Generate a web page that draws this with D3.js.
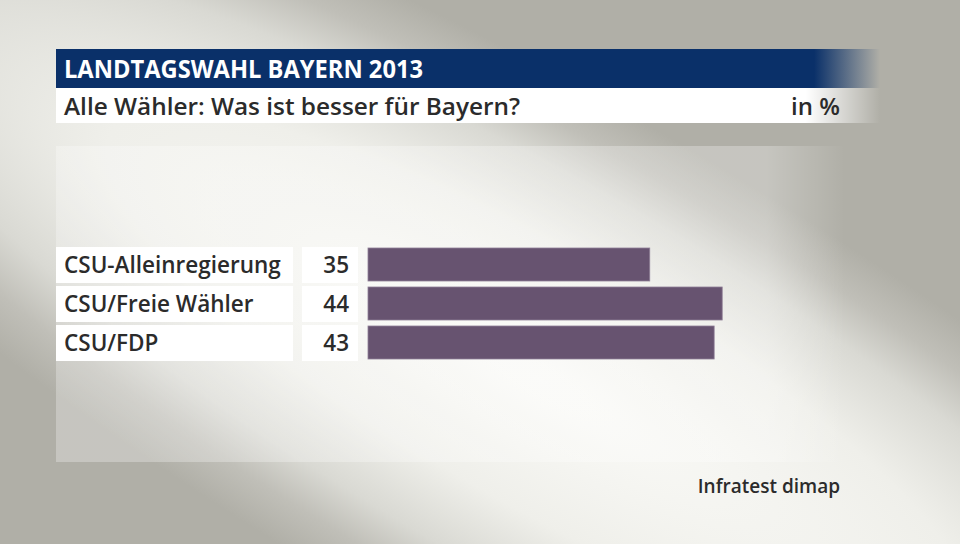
<!DOCTYPE html>
<html>
<head>
<meta charset="utf-8">
<script src="https://cdn.jsdelivr.net/npm/d3@7"></script>
<style>
  html, body { margin: 0; padding: 0; background: #b2b1a9; }
  svg { display: block; }
  text { font-family: "Open Sans", "DejaVu Sans", sans-serif; }
</style>
</head>
<body>
<svg id="chart" width="960" height="544"></svg>
<script>
const title = "LANDTAGSWAHL BAYERN 2013";
const subtitle = "Alle Wähler: Was ist besser für Bayern?";
const unitLabel = "in %";
const source = "Infratest dimap";
const categories = ["CSU-Alleinregierung", "CSU/Freie Wähler", "CSU/FDP"];
const values = [35, 44, 43];

const svg = d3.select("#chart");
const width = 960, height = 544;
const defs = svg.append("defs");

// background: light diagonal glow on grey
const bg = defs.append("radialGradient")
  .attr("id", "bgGlow")
  .attr("gradientUnits", "userSpaceOnUse")
  .attr("cx", 540).attr("cy", 380).attr("r", 1100)
  .attr("gradientTransform", "translate(540,380) rotate(30) scale(1,0.25) translate(-540,-380)");
[[0, "#fafaf7"], [0.45, "#efefea"], [0.7, "#d9d9d3"], [0.85, "#c0bfb8"], [1, "#b0afa7"]]
  .forEach(([o, c]) => bg.append("stop").attr("offset", o).attr("stop-color", c));

const fadeStops = (id, color, x0, x1, from) => {
  const g = defs.append("linearGradient").attr("id", id)
    .attr("gradientUnits", "userSpaceOnUse")
    .attr("x1", x0).attr("x2", x1).attr("y1", 0).attr("y2", 0);
  g.append("stop").attr("offset", 0).attr("stop-color", color).attr("stop-opacity", 1);
  g.append("stop").attr("offset", from).attr("stop-color", color).attr("stop-opacity", 1);
  g.append("stop").attr("offset", 1).attr("stop-color", color).attr("stop-opacity", 0);
};
fadeStops("navyFade", "#0a3069", 56, 880, 0.92);
fadeStops("whiteFade", "#ffffff", 56, 880, 0.91);
fadeStops("panelFade", "#ffffff", 56, 845, 0.9);

svg.append("rect").attr("width", width).attr("height", height).attr("fill", "url(#bgGlow)");

// header
svg.append("rect").attr("x", 56).attr("y", 49).attr("width", 824).attr("height", 39).attr("fill", "url(#navyFade)");
svg.append("rect").attr("x", 56).attr("y", 88).attr("width", 824).attr("height", 35).attr("fill", "url(#whiteFade)");

svg.append("text").attr("x", 64).attr("y", 78)
  .attr("fill", "#fff").attr("font-size", 25).attr("font-weight", 700)
  .attr("textLength", 359).attr("lengthAdjust", "spacingAndGlyphs")
  .text(title);
svg.append("text").attr("x", 64).attr("y", 115)
  .attr("fill", "#2b2b2b").attr("font-size", 24).attr("font-weight", 600)
  .attr("textLength", 456).attr("lengthAdjust", "spacingAndGlyphs")
  .text(subtitle);
svg.append("text").attr("x", 840).attr("y", 115).attr("text-anchor", "end")
  .attr("fill", "#2b2b2b").attr("font-size", 24).attr("font-weight", 600)
  .text(unitLabel);

// plot panel
svg.append("rect").attr("x", 56).attr("y", 146).attr("width", 789).attr("height", 316)
  .attr("fill", "url(#panelFade)").attr("opacity", 0.28);

// scales
const y = d3.scaleBand().domain(categories).range([247, 361]).paddingInner(3 / 39);
const x = d3.scaleLinear().domain([0, 60]).range([368, 368 + 60 * 8.05]);

const rows = svg.append("g").selectAll("g").data(categories).join("g");

rows.append("rect")
  .attr("x", 56).attr("y", d => y(d)).attr("width", 237).attr("height", y.bandwidth())
  .attr("fill", "#fff");
rows.append("rect")
  .attr("x", 302).attr("y", d => y(d)).attr("width", 56).attr("height", y.bandwidth())
  .attr("fill", "#fff");

rows.append("text")
  .attr("x", 64).attr("y", d => y(d) + y.bandwidth() / 2 + 8)
  .attr("fill", "#2b2b2b").attr("font-size", 22.5).attr("font-weight", 600)
  .text(d => d);

rows.append("text")
  .attr("x", 349).attr("y", d => y(d) + y.bandwidth() / 2 + 8)
  .attr("text-anchor", "end")
  .attr("fill", "#2b2b2b").attr("font-size", 22.5).attr("font-weight", 600)
  .text((d, i) => values[i]);

rows.append("rect")
  .attr("x", x(0)).attr("y", d => y(d) + 1)
  .attr("width", (d, i) => x(values[i]) - x(0)).attr("height", y.bandwidth() - 3)
  .attr("fill", "#675370")
  .attr("stroke", "#8f7f97").attr("stroke-width", 0.8);

svg.append("text").attr("x", 840).attr("y", 493).attr("text-anchor", "end")
  .attr("fill", "#2b2b2b").attr("font-size", 19).attr("font-weight", 600)
  .text(source);
</script>
</body>
</html>
